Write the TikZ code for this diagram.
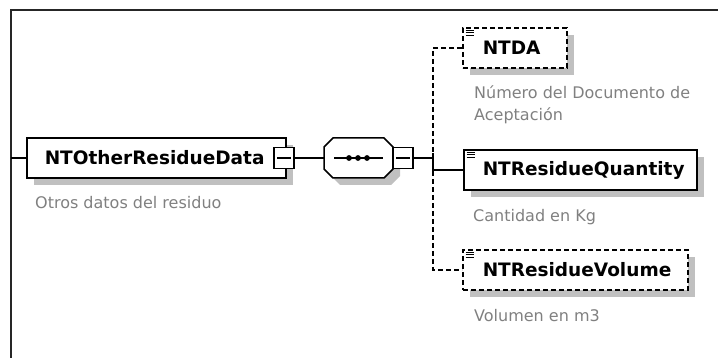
\documentclass[tikz,border=0pt]{standalone}
\usepackage{fontspec}
\setmainfont{DejaVu Sans}
\usetikzlibrary{shadows}
\definecolor{shadowgray}{RGB}{192,192,192}
\definecolor{desc}{RGB}{128,128,128}
\begin{document}
\begin{tikzpicture}[x=1pt,y=-1pt,
  frame/.style={line width=1.6pt, draw=black!85},
  elbox/.style={draw, fill=white, line width=1.5pt, minimum height=40pt,
    inner xsep=0pt, inner ysep=0pt, align=left, anchor=west,
    font=\fontsize{18.5}{20}\selectfont\bfseries,
    drop shadow={shadow xshift=7pt, shadow yshift=-7pt, fill=shadowgray, opacity=1}},
  optbox/.style={elbox, dash pattern=on 5pt off 3pt},
  minusbox/.style={draw, fill=white, line width=1.4pt, minimum width=20pt,
    minimum height=21pt, inner sep=0pt},
  conn/.style={line width=1.4pt},
  dconn/.style={line width=1.4pt, dash pattern=on 5pt off 3pt},
  desctext/.style={font=\fontsize{16}{20}\selectfont, text=desc, inner sep=0pt, anchor=base west},
  icon/.style={line width=1pt}
]
\useasboundingbox (0,0) rectangle (718,358);

% outer frame
\draw[frame] (11,358) -- (11,10) -- (718,10);

% main element
\node[elbox, text width=259pt] (main) at (26,158) {\hspace*{18pt}NTOtherResidueData};
\node[minusbox] (m1) at (284,158) {};
\draw[conn] ([xshift=-7pt]m1.center) -- ([xshift=7pt]m1.center);
\node[desctext] (maindesc) at (35,209) {Otros datos del residuo};
\coordinate (fl) at (11,158);
\draw[conn] (fl) -- (main.west);

% sequence compositor
\node[inner sep=0pt, minimum width=69pt, minimum height=40pt] (seq) at (358.5,158) {};
\fill[shadowgray] (340,145) -- (391,145) -- (400,154) -- (400,176) -- (391,185) -- (340,185) -- (331,176) -- (331,154) -- cycle;
\draw[line width=1.5pt, fill=white] (333,138) -- (384,138) -- (393,147) -- (393,169) -- (384,178) -- (333,178) -- (324,169) -- (324,147) -- cycle;
\draw[conn] (334,158) -- (383,158);
\foreach \dx in {349,358,367} \fill (\dx,158) circle (2.9pt);
\node[minusbox] (m2) at (403,158) {};
\draw[conn] ([xshift=-7pt]m2.center) -- ([xshift=7pt]m2.center);
\draw[conn] (m1.east) -- (seq.west);

% children
\node[optbox, text width=104pt] (ntda) at (462,48) {\hspace*{20pt}NTDA};
\node[elbox, text width=233pt] (qty) at (463,170) {\hspace*{19pt}NTResidueQuantity};
\node[optbox, text width=225pt] (vol) at (462,270) {\hspace*{20pt}NTResidueVolume};

\foreach \n in {ntda,qty,vol}{
  \foreach \dy in {2.8,5.3,7.8}
    \draw[icon] ([shift={(3.5,\dy)}]\n.north west) -- ++(8,0);
}

\node[desctext] (ntdadesc1) at (474,99) {Número del Documento de};
\node[desctext] (ntdadesc2) at (474,121) {Aceptación};
\node[desctext] (qtydesc) at (473,222) {Cantidad en Kg};
\node[desctext] (voldesc) at (474,322) {Volumen en m3};

% connectors
\coordinate (br) at (433,158);
\coordinate (brtop) at (433,153);
\coordinate (brbot) at (433,173);
\draw[conn] (m2.east) -- (br);
\draw[conn] (brtop) -- (brbot);
\draw[conn] (qty.west -| br) -- (qty.west);
\draw[dconn] (ntda.west) -- (ntda.west -| br) -- (vol.west -| br) -- (vol.west);
\end{tikzpicture}
\end{document}
